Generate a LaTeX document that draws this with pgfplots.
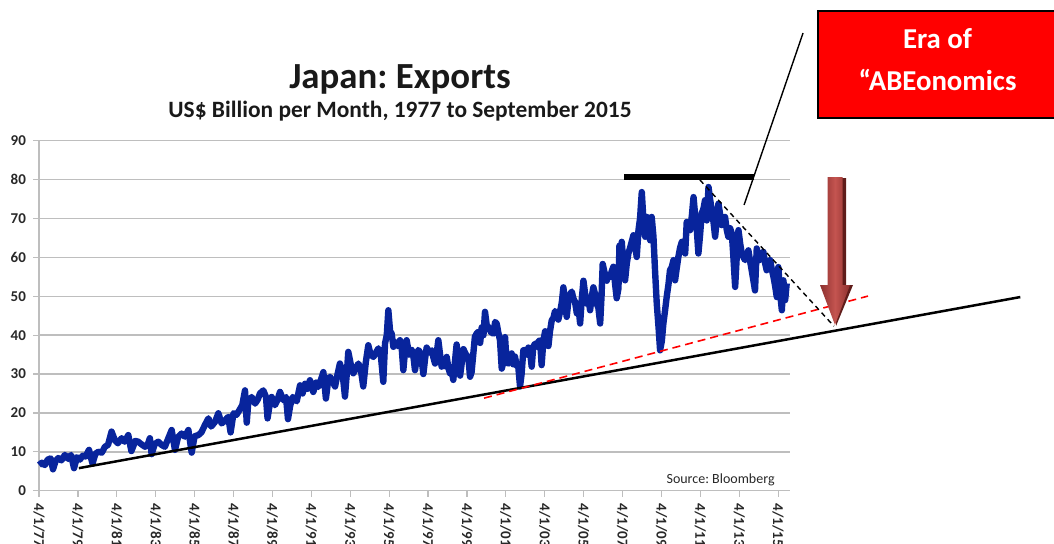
\documentclass[border=0pt]{standalone}
\usepackage{pgfplots}
\pgfplotsset{compat=1.18}
\usepackage{fontspec}
\setmainfont{Carlito}
\definecolor{serblue}{RGB}{8,36,156}
\definecolor{gridgray}{RGB}{190,190,190}
\definecolor{labgray}{RGB}{40,40,40}
\definecolor{arrdark}{RGB}{140,48,46}
\definecolor{arrlight}{RGB}{196,84,80}
\definecolor{arrshadow}{RGB}{95,28,26}
\begin{document}
\frenchspacing
\begin{tikzpicture}
\begin{axis}[
  scale only axis, width=375.5pt, height=175pt,
  xmin=1977.25, xmax=2015.86, ymin=0, ymax=90,
  axis lines*=left,
  axis line style={draw=gridgray, line width=0.75pt},
  ytick={0,10,20,30,40,50,60,70,80,90},
  ymajorgrids, grid style={gridgray, line width=0.75pt},
  xtick={1977.25,1979.25,1981.25,1983.25,1985.25,1987.25,1989.25,1991.25,1993.25,1995.25,1997.25,1999.25,2001.25,2003.25,2005.25,2007.25,2009.25,2011.25,2013.25,2015.25},
  xticklabels={4/1/77,4/1/79,4/1/81,4/1/83,4/1/85,4/1/87,4/1/89,4/1/91,4/1/93,4/1/95,4/1/97,4/1/99,4/1/01,4/1/03,4/1/05,4/1/07,4/1/09,4/1/11,4/1/13,4/1/15},
  tick align=outside, major tick length=3pt,
  tick style={gridgray, line width=0.6pt},
  /pgf/number format/assume math mode=true,
  xticklabel style={rotate=-90, anchor=west, font=\fontsize{7.5}{9}\selectfont\bfseries, text=labgray},
  yticklabel style={font=\fontsize{7.5}{9}\selectfont\bfseries, text=labgray},
  clip=false,
]
\addplot[serblue, line width=3.2pt, line join=round] coordinates {
(1977.25,6.6) (1977.4,7.2) (1977.55,6.6) (1977.7,8.0) (1977.85,8.3) (1977.97,5.5) (1978.1,7.6) (1978.24,8.4) (1978.4,7.8) (1978.58,9.2) (1978.75,8.2) (1978.9,9.2) (1979.05,5.8) (1979.2,8.6) (1979.35,8.0) (1979.5,9.0) (1979.65,8.8) (1979.82,10.5) (1980.0,7.0) (1980.15,9.5) (1980.3,10.0) (1980.48,9.8) (1980.64,11.3) (1980.8,11.8) (1980.98,15.2) (1981.15,13.0) (1981.3,12.2) (1981.5,13.5) (1981.65,12.6) (1981.84,14.3) (1982.0,10.2) (1982.2,12.8) (1982.35,12.6) (1982.5,12.0) (1982.7,11.3) (1982.85,12.0) (1982.95,13.5) (1983.04,9.4) (1983.2,12.0) (1983.38,12.6) (1983.55,11.8) (1983.72,11.3) (1983.9,13.5) (1984.07,15.6) (1984.24,10.5) (1984.4,13.8) (1984.58,14.7) (1984.75,13.9) (1984.93,15.6) (1985.1,9.8) (1985.25,14.0) (1985.44,14.3) (1985.6,15.0) (1985.78,16.9) (1985.96,18.6) (1986.1,16.5) (1986.3,17.7) (1986.47,19.9) (1986.64,17.3) (1986.8,18.0) (1986.98,19.0) (1987.1,15.0) (1987.25,19.9) (1987.4,19.5) (1987.55,20.7) (1987.7,22.0) (1987.84,25.8) (1987.93,17.5) (1988.01,22.8) (1988.18,24.1) (1988.36,22.4) (1988.5,23.5) (1988.61,25.0) (1988.78,25.8) (1988.92,24.1) (1989.0,18.6) (1989.12,22.5) (1989.21,24.1) (1989.38,22.0) (1989.5,23.2) (1989.64,25.4) (1989.81,23.3) (1989.95,24.1) (1990.05,18.4) (1990.17,22.0) (1990.3,24.1) (1990.5,23.0) (1990.67,27.1) (1990.8,25.0) (1990.93,27.5) (1991.05,26.2) (1991.18,28.4) (1991.35,25.4) (1991.5,27.8) (1991.61,26.7) (1991.75,28.6) (1991.87,30.5) (1992.0,23.7) (1992.12,28.5) (1992.21,29.3) (1992.35,28.0) (1992.47,26.8) (1992.6,30.0) (1992.72,32.7) (1992.85,30.5) (1992.98,24.2) (1993.08,30.5) (1993.15,35.7) (1993.28,32.5) (1993.41,30.2) (1993.55,31.5) (1993.67,32.7) (1993.8,31.0) (1993.92,26.8) (1994.05,33.0) (1994.18,37.4) (1994.3,35.0) (1994.44,34.4) (1994.57,35.5) (1994.7,36.6) (1994.83,34.5) (1994.95,28.0) (1995.04,37.9) (1995.13,40.0) (1995.21,46.4) (1995.3,41.0) (1995.38,40.4) (1995.47,37.0) (1995.55,38.3) (1995.68,37.2) (1995.81,38.7) (1995.9,36.5) (1995.98,31.0) (1996.07,36.0) (1996.15,38.7) (1996.28,35.0) (1996.41,36.2) (1996.5,34.5) (1996.58,31.0) (1996.67,34.0) (1996.75,36.2) (1996.88,35.3) (1997.01,30.0) (1997.1,34.0) (1997.18,36.8) (1997.3,35.5) (1997.44,36.1) (1997.52,34.4) (1997.61,32.7) (1997.7,35.5) (1997.78,38.7) (1997.87,35.0) (1997.95,31.9) (1998.05,33.5) (1998.13,32.0) (1998.21,34.4) (1998.3,31.5) (1998.38,30.2) (1998.46,31.0) (1998.55,28.5) (1998.63,33.0) (1998.72,37.6) (1998.8,33.5) (1998.9,29.6) (1999.0,33.5) (1999.07,36.4) (1999.2,35.0) (1999.32,34.4) (1999.41,29.3) (1999.49,30.5) (1999.58,35.3) (1999.66,39.6) (1999.75,40.4) (1999.84,40.9) (1999.93,38.0) (2000.01,42.0) (2000.1,40.0) (2000.18,46.0) (2000.27,42.5) (2000.35,42.1) (2000.48,40.8) (2000.61,40.4) (2000.7,43.4) (2000.78,43.0) (2000.87,40.5) (2000.95,38.7) (2001.04,31.4) (2001.12,33.0) (2001.21,39.5) (2001.29,33.0) (2001.38,32.7) (2001.47,34.0) (2001.55,35.3) (2001.63,32.5) (2001.72,34.5) (2001.81,32.0) (2001.89,31.9) (2001.98,26.8) (2002.06,30.0) (2002.15,36.1) (2002.24,36.2) (2002.33,35.0) (2002.41,36.8) (2002.5,35.5) (2002.58,31.9) (2002.66,37.0) (2002.75,37.8) (2002.84,37.0) (2002.92,38.3) (2003.01,38.7) (2003.09,32.3) (2003.18,38.5) (2003.27,41.0) (2003.35,39.5) (2003.44,37.2) (2003.52,41.0) (2003.61,43.8) (2003.7,44.5) (2003.78,46.2) (2003.87,45.5) (2003.95,44.0) (2004.04,46.0) (2004.13,48.5) (2004.21,52.3) (2004.3,48.0) (2004.38,44.7) (2004.47,49.0) (2004.55,50.5) (2004.64,51.2) (2004.72,49.5) (2004.81,48.5) (2004.9,45.6) (2004.98,47.5) (2005.07,43.0) (2005.15,49.0) (2005.24,54.0) (2005.33,50.5) (2005.41,48.1) (2005.5,49.5) (2005.58,46.4) (2005.67,50.0) (2005.75,52.3) (2005.84,50.5) (2005.92,48.1) (2006.01,47.0) (2006.1,43.0) (2006.17,50.0) (2006.23,58.3) (2006.33,56.0) (2006.44,54.0) (2006.52,55.5) (2006.61,55.0) (2006.7,56.5) (2006.78,57.6) (2006.87,53.0) (2006.95,49.5) (2007.04,52.0) (2007.09,63.0) (2007.15,60.0) (2007.21,64.0) (2007.3,58.0) (2007.38,54.1) (2007.47,58.5) (2007.55,61.0) (2007.64,62.5) (2007.72,64.0) (2007.81,65.7) (2007.9,63.0) (2007.98,60.1) (2008.07,67.0) (2008.15,70.0) (2008.24,76.8) (2008.32,70.0) (2008.41,65.3) (2008.5,70.4) (2008.58,66.0) (2008.67,64.4) (2008.75,70.4) (2008.84,65.3) (2008.92,56.7) (2009.01,48.1) (2009.1,42.1) (2009.18,36.1) (2009.27,38.5) (2009.35,43.0) (2009.44,46.5) (2009.52,49.8) (2009.61,53.0) (2009.69,56.7) (2009.78,57.5) (2009.87,59.3) (2009.95,54.1) (2010.03,57.0) (2010.12,60.1) (2010.21,62.5) (2010.3,64.0) (2010.38,62.5) (2010.47,61.0) (2010.55,69.1) (2010.64,68.0) (2010.72,67.0) (2010.81,70.5) (2010.9,75.5) (2010.98,71.0) (2011.07,67.0) (2011.15,61.0) (2011.24,66.0) (2011.32,71.3) (2011.41,72.5) (2011.49,74.7) (2011.58,69.5) (2011.67,78.1) (2011.75,75.0) (2011.84,72.1) (2011.93,69.0) (2012.01,65.3) (2012.1,70.0) (2012.18,73.8) (2012.27,71.0) (2012.35,68.3) (2012.44,69.5) (2012.52,70.4) (2012.61,67.0) (2012.69,65.3) (2012.78,67.5) (2012.87,66.1) (2012.95,60.0) (2013.04,52.4) (2013.12,60.0) (2013.21,67.0) (2013.3,63.5) (2013.38,61.0) (2013.47,60.0) (2013.55,59.3) (2013.64,60.5) (2013.72,61.8) (2013.81,59.0) (2013.89,56.7) (2013.98,54.0) (2014.06,51.5) (2014.15,62.3) (2014.24,60.5) (2014.32,59.3) (2014.41,60.0) (2014.49,61.4) (2014.58,58.5) (2014.66,56.7) (2014.75,57.5) (2014.84,59.3) (2014.92,57.0) (2015.01,55.0) (2015.1,52.5) (2015.18,49.8) (2015.26,57.5) (2015.35,51.0) (2015.44,46.4) (2015.52,54.1) (2015.61,49.0) (2015.69,53.3)
};
% support trend line
\addplot[black, line width=1.25pt] coordinates {(1979.3,5.8) (2027.7,49.8)};
% red dashed trend line
\addplot[red, line width=0.8pt, dash pattern=on 4pt off 2.5pt] coordinates {(2000.13,23.8) (2019.87,50.05)};
% thick top bar
\addplot[black, line width=3pt] coordinates {(2007.33,80.6) (2014.01,80.6)};
% black dashed descending line
\addplot[black, line width=0.7pt, dash pattern=on 2.5pt off 2pt] coordinates {(2011.23,79.9) (2018.12,42.3)};
% pointer line to box
\addplot[black, line width=0.7pt] coordinates {(2013.5,73.5) (2016.53,117.7)};
\end{axis}
% arrow (pt coordinates relative to axis origin)
\fill[arrshadow] (399.8pt,156.3pt) -- (403.5pt,156.3pt) -- (403.5pt,102.85pt) -- (407pt,102.85pt) -- (398.5pt,82.3pt) -- cycle;
\shade[left color=arrdark, right color=arrdark, middle color=arrlight]
  (394.25pt,156.85pt) -- (401.75pt,156.85pt) -- (401.75pt,102.85pt) -- (405.5pt,102.85pt)
  -- (398pt,82.85pt) -- (390.5pt,102.85pt) -- (394.25pt,102.85pt) -- cycle;
% red box
\filldraw[fill=red, draw=black, line width=0.9pt] (389.5pt,186.35pt) rectangle (511pt,239.85pt);
\node[anchor=base, text=white, font=\fontsize{14.4}{17}\selectfont\bfseries, inner sep=0pt] at (449.25pt,221.35pt) {Era of};
\node[anchor=base, text=white, font=\fontsize{14.4}{17}\selectfont\bfseries, inner sep=0pt] at (449.25pt,200.35pt) {“ABEonomics};
% titles
\node[anchor=base, font=\fontsize{18.4}{22}\selectfont\bfseries, text=black!90, inner sep=0pt] at (180.5pt,201.35pt) {Japan: Exports};
\node[anchor=base, font=\fontsize{11.7}{14}\selectfont\bfseries, text=black!90, inner sep=0pt] at (180.5pt,186.85pt) {US\$ Billion per Month, 1977 to September 2015};
\node[anchor=base east, font=\fontsize{7}{8}\selectfont, text=labgray, inner sep=0pt] at (368pt,3.85pt) {Source: Bloomberg};
\pgfresetboundingbox
\useasboundingbox (-19.5pt,-26.15pt) rectangle (507.5pt,245.35pt);
\end{tikzpicture}
\end{document}
